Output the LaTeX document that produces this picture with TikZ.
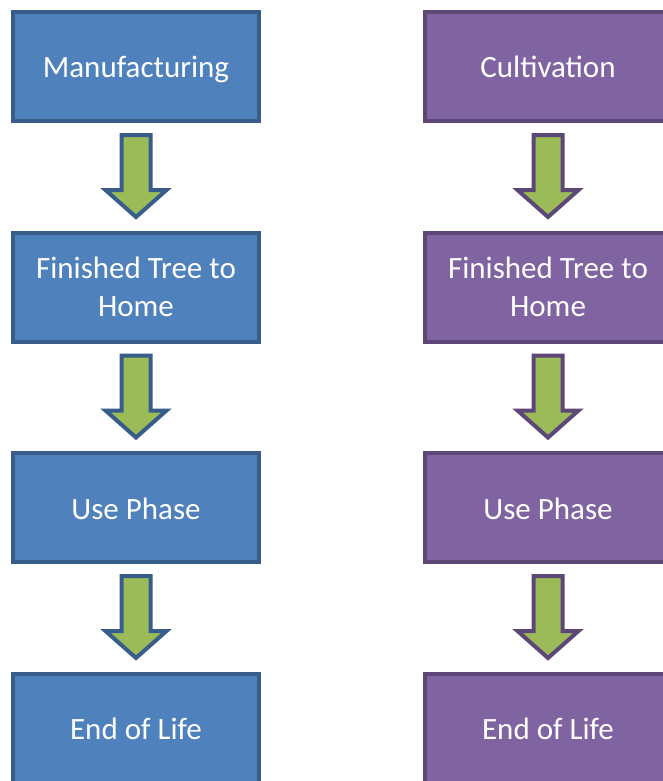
\documentclass[tikz,border=0pt]{standalone}
\usepackage{fontspec}
\setmainfont{Carlito}
\usetikzlibrary{positioning,calc}
\definecolor{bluefill}{HTML}{4F81BD}
\definecolor{blueline}{HTML}{385D8A}
\definecolor{purplefill}{HTML}{8064A2}
\definecolor{purpleline}{HTML}{5C4776}
\definecolor{arrowfill}{HTML}{9BBB59}
\tikzset{
  stage/.style={draw=#1line, fill=#1fill, line width=4pt, minimum width=246pt,
    minimum height=109pt, align=center, text=white, font=\fontsize{31}{38}\selectfont},
  oneline/.style={text height=23pt, text depth=0pt},
  blockarrow/.style={draw=#1line, fill=arrowfill, line width=4pt, line join=miter}
}
\newcommand{\flowarrow}[2]{%
  \draw[blockarrow=#2] ($(#1.south)+(-14.5,-12)$) -- ++(0,-55) -- ++(-16,0)
    -- ++(30.5,-27) -- ++(30.5,27) -- ++(-16,0) -- ++(0,55) -- cycle;}
\begin{document}
\begin{tikzpicture}[x=1pt, y=1pt, node distance=107.5pt and 162pt]
\useasboundingbox (0,0) rectangle (662,-781);
\node[stage=blue, oneline] (man) at (136,-66.5) {Manufacturing};
\node[stage=blue, below=of man] (homel) {Finished Tree to\\Home};
\node[stage=blue, oneline, below=of homel] (usel) {Use Phase};
\node[stage=blue, oneline, below=of usel] (endl) {End of Life};
\node[stage=purple, oneline, right=of man] (cult) {Cultivation};
\node[stage=purple, below=of cult] (homer) {Finished Tree to\\Home};
\node[stage=purple, oneline, below=of homer] (user) {Use Phase};
\node[stage=purple, oneline, below=of user] (endr) {End of Life};
\flowarrow{man}{blue}
\flowarrow{homel}{blue}
\flowarrow{usel}{blue}
\flowarrow{cult}{purple}
\flowarrow{homer}{purple}
\flowarrow{user}{purple}
\end{tikzpicture}
\end{document}
